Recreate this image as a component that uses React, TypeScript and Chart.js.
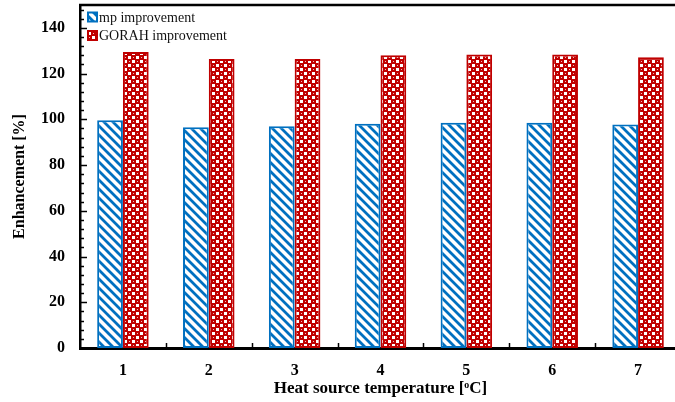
import { useEffect, useRef } from 'react';
import { Chart, registerables } from 'chart.js';

Chart.register(...registerables);

const categories = ['1', '2', '3', '4', '5', '6', '7'];
const mpImprovement = [99.6, 96.5, 97.0, 98.1, 98.5, 98.5, 97.7];
const gorahImprovement = [129.5, 126.4, 126.4, 128.0, 128.4, 128.4, 127.2];
const seriesLabels = ['mp improvement', 'GORAH improvement'];
const yMin = 0;
const yMax = 150;
const yMajorStep = 20;
const yMinorStep = 4;
const yLabelMax = 140;

const BLUE = '#0070C0';
const RED = '#C00000';
const FONT = "'Times New Roman', 'Liberation Serif', serif";

function makeHatch(ctx: CanvasRenderingContext2D): CanvasPattern | string {
  const s = 9;
  const c = document.createElement('canvas');
  c.width = s;
  c.height = s;
  const g = c.getContext('2d');
  if (!g) return BLUE;
  g.fillStyle = '#ffffff';
  g.fillRect(0, 0, s, s);
  g.strokeStyle = BLUE;
  g.lineWidth = 2.8;
  g.beginPath();
  g.moveTo(-2, -2);
  g.lineTo(s + 2, s + 2);
  g.moveTo(-2, s - 2);
  g.lineTo(2, s + 2);
  g.moveTo(s - 2, -2);
  g.lineTo(s + 2, 2);
  g.stroke();
  return ctx.createPattern(c, 'repeat') || BLUE;
}

function makeDots(ctx: CanvasRenderingContext2D): CanvasPattern | string {
  const c = document.createElement('canvas');
  c.width = 8;
  c.height = 8;
  const g = c.getContext('2d');
  if (!g) return RED;
  g.fillStyle = RED;
  g.fillRect(0, 0, 8, 8);
  g.fillStyle = '#ffffff';
  g.fillRect(0, 0, 3, 3);
  g.fillRect(4, 4, 3, 3);
  g.fillStyle = '#F2B8B8';
  g.fillRect(5, 1, 1, 1);
  g.fillRect(1, 5, 1, 1);
  return ctx.createPattern(c, 'repeat') || RED;
}

export default function App() {
  const canvasRef = useRef<HTMLCanvasElement | null>(null);

  useEffect(() => {
    const canvas = canvasRef.current;
    if (!canvas) return;
    const ctx = canvas.getContext('2d');
    if (!ctx) return;
    const hatch = makeHatch(ctx);
    const dots = makeDots(ctx);

    const decorations = {
      id: 'decorations',
      afterDraw(chart: any) {
        const { ctx: c, chartArea, scales } = chart;
        const x = scales.x;
        const y = scales.y;
        c.save();
        // top frame line
        c.strokeStyle = '#000';
        c.lineWidth = 2.5;
        c.beginPath();
        c.moveTo(chartArea.left - 1, chartArea.top);
        c.lineTo(chart.width, chartArea.top);
        c.stroke();
        // inward y ticks
        c.lineWidth = 1.5;
        for (let v = yMin + yMinorStep; v < yMax; v += yMinorStep) {
          const py = Math.round(y.getPixelForValue(v)) + 0.5;
          const len = v % yMajorStep === 0 ? 7 : 4;
          c.beginPath();
          c.moveTo(chartArea.left, py);
          c.lineTo(chartArea.left + len, py);
          c.stroke();
        }
        // inward x ticks at category boundaries
        const cw = x.getPixelForValue(1) - x.getPixelForValue(0);
        for (let i = 1; i < categories.length; i++) {
          const px = Math.round(x.getPixelForValue(i) - cw / 2) + 0.5;
          c.beginPath();
          c.moveTo(px, chartArea.bottom);
          c.lineTo(px, chartArea.bottom - 5);
          c.stroke();
        }
        // legend
        const items = [
          { label: seriesLabels[0], fill: hatch, stroke: BLUE },
          { label: seriesLabels[1], fill: dots, stroke: RED },
        ];
        c.font = `14px ${FONT}`;
        c.textBaseline = 'middle';
        c.textAlign = 'left';
        items.forEach((it, i) => {
          const cy = 17 + i * 18.5;
          c.fillStyle = it.fill;
          c.fillRect(chartArea.left + 8, cy - 4.5, 9, 9);
          c.strokeStyle = it.stroke;
          c.lineWidth = 2;
          c.strokeRect(chartArea.left + 8, cy - 4.5, 9, 9);
          c.fillStyle = '#111';
          c.fillText(it.label, chartArea.left + 19, cy + 1);
        });
        c.restore();
      },
    };

    const chart = new Chart(ctx, {
      type: 'bar',
      data: {
        labels: categories,
        datasets: [
          {
            label: seriesLabels[0],
            data: mpImprovement,
            backgroundColor: hatch as any,
            borderColor: BLUE,
            borderWidth: 2,
            borderSkipped: false,
          },
          {
            label: seriesLabels[1],
            data: gorahImprovement,
            backgroundColor: dots as any,
            borderColor: RED,
            borderWidth: 2,
            borderSkipped: false,
          },
        ],
      },
      options: {
        responsive: false,
        animation: false,
        devicePixelRatio: 1,
        layout: { padding: { top: 5, right: 0, left: 0, bottom: 0 } },
        datasets: { bar: { categoryPercentage: 0.6, barPercentage: 1.0 } },
        plugins: {
          legend: { display: false },
          tooltip: { enabled: false },
        },
        scales: {
          x: {
            grid: { display: false, drawTicks: false },
            border: { display: true, color: '#000', width: 3 },
            ticks: {
              color: '#000',
              padding: 13,
              font: { family: FONT, size: 16, weight: 'bold' },
            },
            title: {
              display: true,
              text: 'Heat source temperature [ᵒC]',
              color: '#000',
              font: { family: FONT, size: 17, weight: 'bold' },
              padding: { top: 0, bottom: 3 },
            },
            afterFit: (s: any) => {
              s.height = 54;
              s.paddingLeft = 0;
              s.paddingRight = 0;
            },
          },
          y: {
            min: yMin,
            max: yMax,
            grid: { display: false, drawTicks: false },
            border: { display: true, color: '#000', width: 2.5 },
            ticks: {
              stepSize: yMajorStep,
              color: '#000',
              padding: 15,
              font: { family: FONT, size: 16, weight: 'bold' },
            },
            afterBuildTicks: (s: any) => {
              s.ticks = s.ticks.filter((t: any) => t.value <= yLabelMax);
            },
            title: {
              display: true,
              text: 'Enhancement [%]',
              color: '#000',
              font: { family: FONT, size: 16, weight: 'bold' },
              padding: { top: 10, bottom: 0 },
            },
            afterFit: (s: any) => {
              s.width = 80;
              s.paddingTop = 0;
              s.paddingBottom = 0;
            },
          },
        },
      },
      plugins: [decorations],
    });

    return () => chart.destroy();
  }, []);

  return (
    <div style={{ position: 'fixed', left: 0, top: 0, width: 681, height: 402, background: '#fff' }}>
      <canvas ref={canvasRef} width={681} height={402} style={{ display: 'block' }} />
    </div>
  );
}
